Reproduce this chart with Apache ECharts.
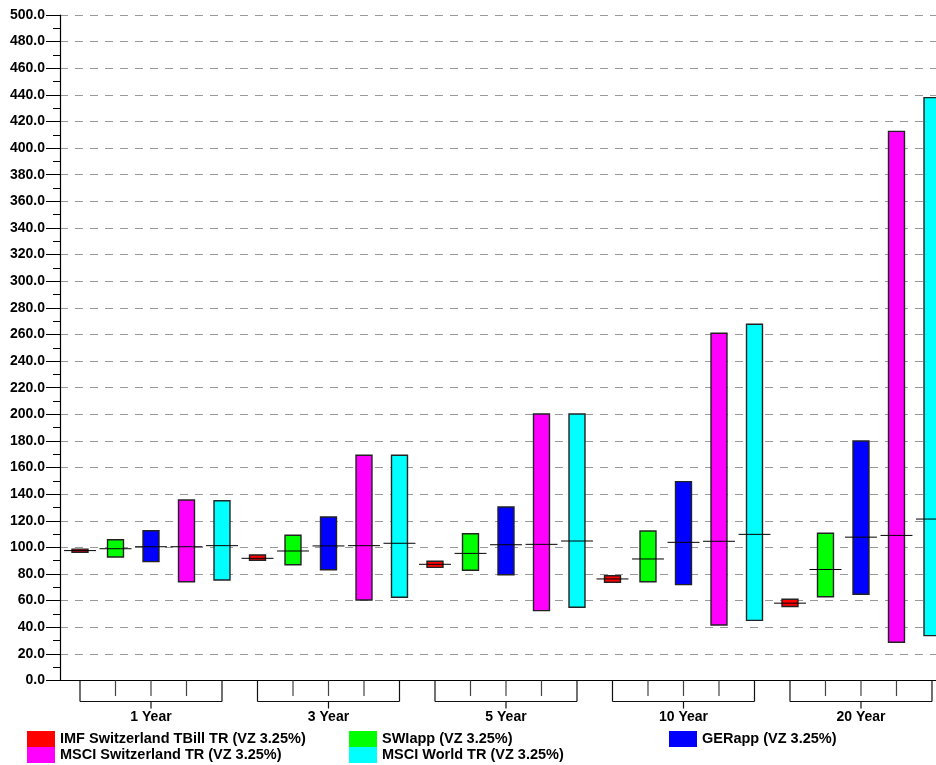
<!DOCTYPE html>
<html><head><meta charset="utf-8">
<script src="https://cdn.jsdelivr.net/npm/echarts@6/dist/echarts.min.js"></script>
<style>html,body{margin:0;padding:0;background:#fff}#c{width:936px;height:765px}</style>
</head><body><div id="c"></div>
<script>
// ---- data ----
const categories = ['1 Year', '3 Year', '5 Year', '10 Year', '20 Year'];
const seriesNames = [
  'IMF Switzerland TBill TR (VZ 3.25%)',
  'SWIapp (VZ 3.25%)',
  'GERapp (VZ 3.25%)',
  'MSCI Switzerland TR (VZ 3.25%)',
  'MSCI World TR (VZ 3.25%)'
];
const seriesColors = ['#FF0000', '#00FF00', '#0000FF', '#FF00FF', '#00FFFF'];

const imfLow    = [96.4, 90.3, 85.0, 73.8, 55.6];
const imfHigh   = [98.7, 94.3, 89.6, 78.7, 61.0];
const imfMedian = [97.6, 91.8, 87.3, 76.3, 58.1];

const swiLow    = [92.8, 87.0, 82.8, 74.2, 62.9];
const swiHigh   = [105.8, 109.1, 110.3, 112.3, 110.6];
const swiMedian = [99.0, 97.3, 95.5, 91.3, 83.4];

const gerLow    = [89.3, 83.2, 79.5, 72.0, 64.8];
const gerHigh   = [112.5, 122.8, 130.4, 149.4, 179.9];
const gerMedian = [100.5, 101.1, 102.0, 103.8, 107.7];

const msciChLow    = [74.2, 60.5, 52.5, 41.7, 28.7];
const msciChHigh   = [135.6, 169.2, 200.2, 260.9, 412.6];
const msciChMedian = [100.5, 101.3, 102.3, 104.6, 109.0];

const msciWLow    = [75.5, 62.5, 55.0, 45.2, 33.7];
const msciWHigh   = [135.1, 169.2, 200.2, 267.6, 437.9];
const msciWMedian = [101.3, 103.1, 104.8, 109.8, 121.3];

const yTickMin = 0, yTickMax = 500, yTickStep = 20;

const lows = [imfLow, swiLow, gerLow, msciChLow, msciWLow];
const highs = [imfHigh, swiHigh, gerHigh, msciChHigh, msciWHigh];
const medians = [imfMedian, swiMedian, gerMedian, msciChMedian, msciWMedian];

// ---- chart ----
const FONT = '"Liberation Sans", Arial, sans-serif';
const nS = seriesNames.length;

function renderBox(params, api) {
  const x = api.value(0), lo = api.value(1), hi = api.value(2), md = api.value(3);
  const pLo = api.coord([x, lo]), pHi = api.coord([x, hi]), pMd = api.coord([x, md]);
  const unit = api.size([1, 0])[0];
  const w = unit * 0.45, mw = unit * 0.9;
  return {
    type: 'group',
    children: [
      { type: 'rect', shape: { x: pLo[0] - w / 2, y: pHi[1], width: w, height: pLo[1] - pHi[1] },
        style: { fill: api.visual('color'), stroke: '#222', lineWidth: 1.4 } },
      { type: 'line', shape: { x1: pMd[0] - mw / 2, y1: pMd[1], x2: pMd[0] + mw / 2, y2: pMd[1] },
        style: { stroke: '#000', lineWidth: 1 } }
    ]
  };
}

function renderBracket(params, api) {
  const xc = api.value(0);
  const base = api.coord([xc, 0]);
  const unit = api.size([1, 0])[0];
  const y0 = base[1];
  const children = [];
  const half = (nS - 1) / 2;
  for (let k = -half; k <= half; k++) {
    const x = base[0] + k * unit;
    const outer = Math.abs(k) === half;
    children.push({ type: 'line', shape: { x1: x, y1: y0, x2: x, y2: y0 + (outer ? 21 : 15.5) },
      style: { stroke: outer ? '#111' : '#444', lineWidth: 1.2 } });
  }
  children.push({ type: 'line', shape: { x1: base[0] - half * unit, y1: y0 + 21, x2: base[0] + half * unit, y2: y0 + 21 },
    style: { stroke: '#111', lineWidth: 1.2 } });
  children.push({ type: 'line', shape: { x1: base[0], y1: y0 + 21, x2: base[0], y2: y0 + 28 },
    style: { stroke: '#111', lineWidth: 1.2 } });
  children.push({ type: 'text', style: { text: categories[params.dataIndex], x: base[0], y: y0 + 37,
    align: 'center', verticalAlign: 'middle', textAlign: 'center', textVerticalAlign: 'middle',
    fill: '#000', font: 'bold 14px ' + FONT } });
  return { type: 'group', children };
}

const boxSeries = seriesNames.map((name, s) => ({
  name,
  type: 'custom',
  color: seriesColors[s],
  clip: false,
  renderItem: renderBox,
  encode: { x: 0, y: [1, 2, 3] },
  data: categories.map((c, g) => [g * nS + s, lows[s][g], highs[s][g], medians[s][g]]),
  z: 3
}));

const bracketSeries = {
  type: 'custom',
  clip: false,
  silent: true,
  renderItem: renderBracket,
  encode: { x: 0, y: 1 },
  data: categories.map((c, g) => [g * nS + (nS - 1) / 2, 0]),
  z: 2
};

const legendPos = [[27, 731], [349, 731], [669, 731], [27, 747], [349, 747]];

const option = {
  animation: false,
  backgroundColor: '#fff',
  grid: { left: 60, right: 0, top: 15, bottom: 84.5, containLabel: false },
  xAxis: {
    type: 'value',
    min: -0.5634, max: 24.113,
    axisLine: { show: true, onZero: false, lineStyle: { color: '#000', width: 1.2 } },
    axisTick: { show: false }, axisLabel: { show: false }, splitLine: { show: false }
  },
  yAxis: {
    type: 'value', min: yTickMin, max: yTickMax, interval: yTickStep,
    axisLine: { show: true, onZero: false, lineStyle: { color: '#000', width: 1.2 } },
    axisTick: { show: true, length: 14, lineStyle: { color: '#000' } },
    minorTick: { show: true, splitNumber: 2, length: 7, lineStyle: { color: '#000' } },
    axisLabel: { margin: 15, formatter: v => v.toFixed(1), color: '#000', fontWeight: 'bold', fontSize: 14, fontFamily: FONT },
    splitLine: { show: true, lineStyle: { color: '#999', type: [8, 7], width: 1 } }
  },
  legend: seriesNames.map((n, i) => ({
    data: [{ name: n, itemStyle: { color: seriesColors[i], borderWidth: 0 } }],
    left: legendPos[i][0], top: legendPos[i][1],
    padding: 0, itemWidth: 28, itemHeight: 16, icon: 'rect', selectedMode: false,
    textStyle: { color: '#000', fontWeight: 'bold', fontSize: 14.5, fontFamily: FONT, lineHeight: 16 }
  })),
  series: boxSeries.concat([bracketSeries])
};

const chart = echarts.init(document.getElementById('c'), null, { renderer: 'canvas' });
chart.setOption(option);
</script>
</body></html>
